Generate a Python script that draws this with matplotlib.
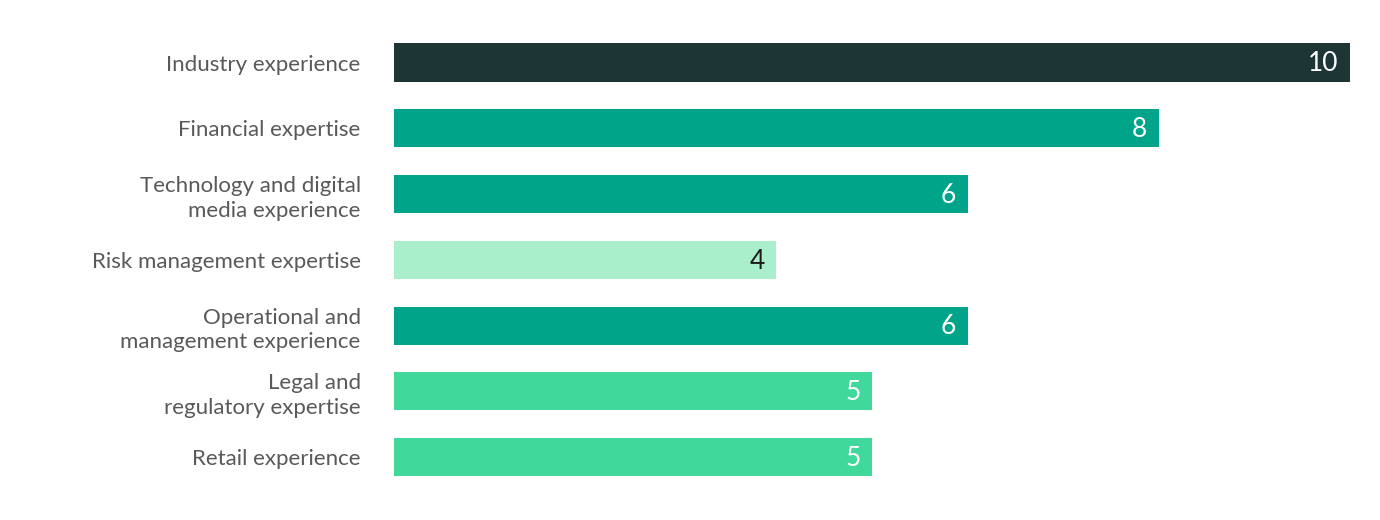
import matplotlib
matplotlib.use("Agg")
from matplotlib import pyplot as plt

categories = ["Industry experience", "Financial expertise",
              "Technology and digital\nmedia experience", "Risk management expertise",
              "Operational and\nmanagement experience", "Legal and\nregulatory expertise",
              "Retail experience"]
values = [10, 8, 6, 4, 6, 5, 5]
colors = ["#1d3535", "#00a589", "#00a589", "#aaefcb", "#00a589", "#40d99b", "#40d99b"]
label_colors = ["white", "white", "white", "#1a1a1a", "white", "white", "white"]

plt.rcParams['font.family'] = ['Lato', 'DejaVu Sans']

fig = plt.figure(figsize=(13.8, 5.2), dpi=100)
ax = fig.add_axes([0.2855, 0.0577, 0.6928, 0.8853])

y = list(range(len(categories)))
ax.barh(y, values, height=0.58, color=colors)
for i in y:
    ax.text(values[i] - 0.12, i + 0.02, str(values[i]), ha="right", va="center",
            fontsize=19, color=label_colors[i])

ax.set_xlim(0, 10)
ax.set_ylim(len(categories) - 0.5, -0.5)
ax.set_yticks(y)
ax.set_yticklabels(categories, fontsize=16, color="#595959", linespacing=1.3)
ax.tick_params(axis="y", length=0, pad=24)
ax.set_xticks([])
for s in ax.spines.values():
    s.set_visible(False)

fig.savefig("out.png", dpi=100)
